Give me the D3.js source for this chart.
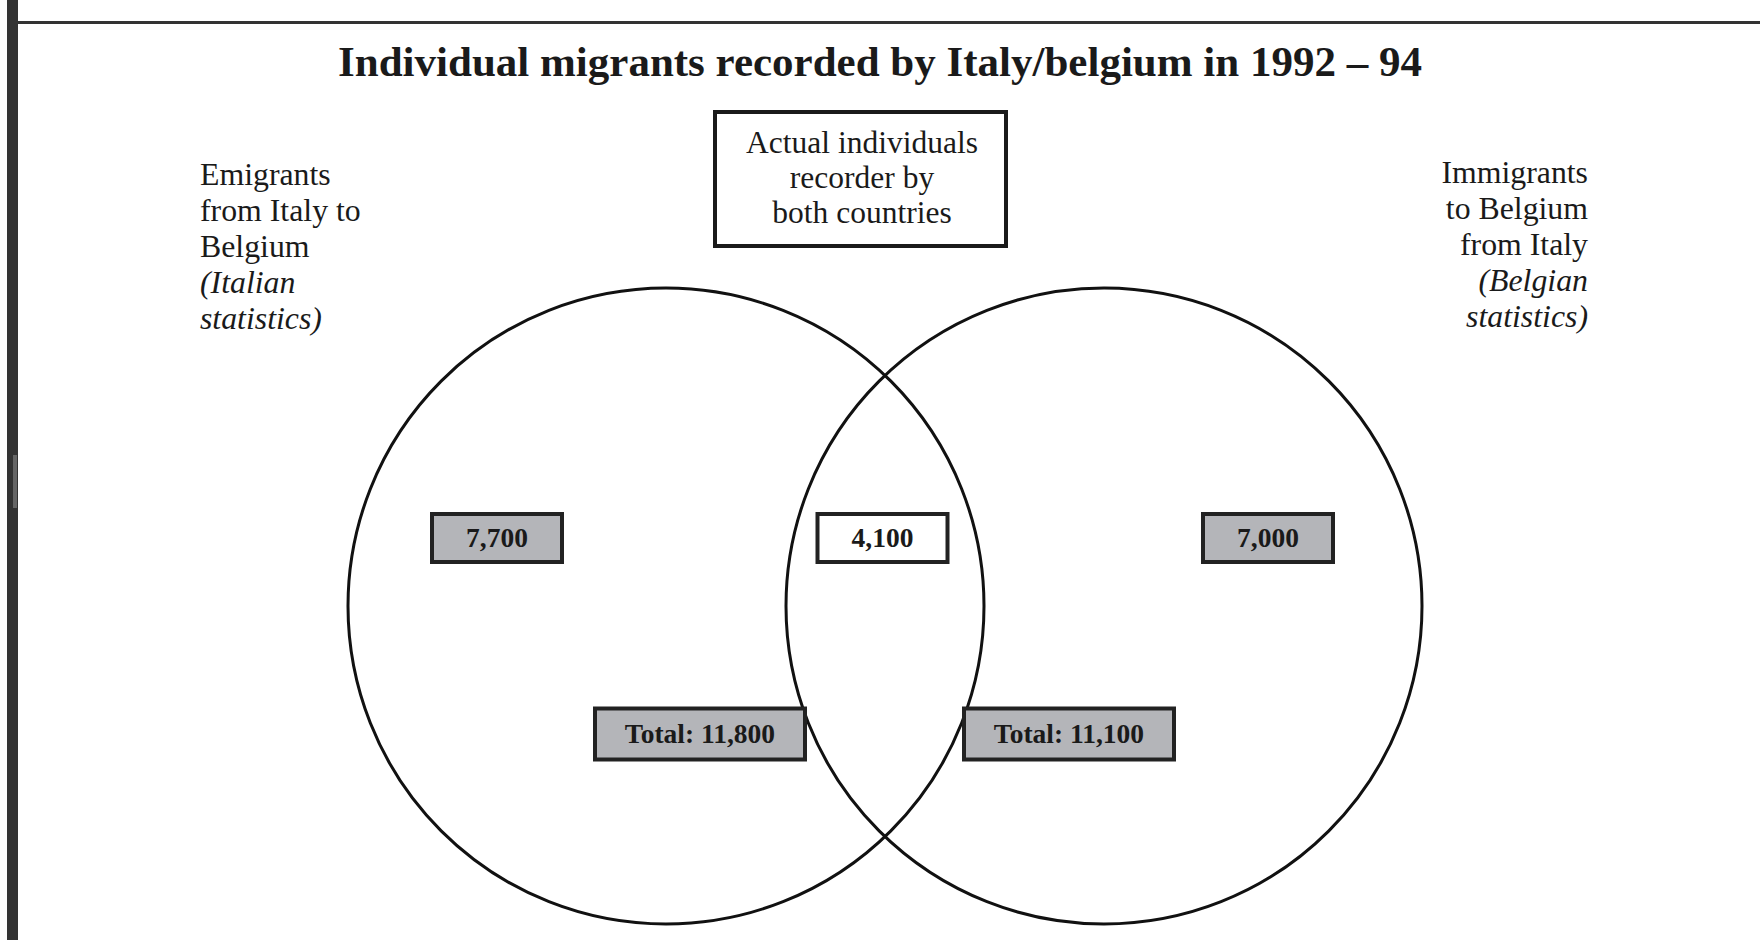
<!DOCTYPE html>
<html lang="en">
<head>
    <meta charset="UTF-8">
    <title>Individual migrants recorded by Italy/belgium in 1992 – 94</title>
    <script src="https://cdnjs.cloudflare.com/ajax/libs/d3/7.8.5/d3.min.js"></script>
    <style>
        body { margin: 0; background: #fff; font-family: "Liberation Serif", "Times New Roman", serif; }
        svg text { fill: #1a1a1a; }
    </style>
</head>
<body>
    <svg width="1760" height="940"></svg>

    <script>
        // data
        const title = "Individual migrants recorded by Italy/belgium in 1992 \u2013 94";
        const regions = ["Italy only", "Both", "Belgium only"];
        const regionValues = [7700, 4100, 7000];
        const sets = ["Italy", "Belgium"];
        const setTotals = [11800, 11100];
        const setLabels = [
            ["Emigrants", "from Italy to", "Belgium"],
            ["Immigrants", "to Belgium", "from Italy"]
        ];
        const setSources = [["(Italian", "statistics)"], ["(Belgian", "statistics)"]];
        const overlapLabel = ["Actual individuals", "recorder by", "both countries"];

        const fmt = d3.format(",");
        const svg = d3.select("svg");

        // frame: left bar and top rule
        svg.append("rect").attr("x", 7).attr("y", 0).attr("width", 11).attr("height", 940).attr("fill", "#333");
        svg.append("rect").attr("x", 13).attr("y", 455).attr("width", 4).attr("height", 53).attr("fill", "#666");
        svg.append("rect").attr("x", 16).attr("y", 21).attr("width", 1744).attr("height", 3).attr("fill", "#333");

        svg.append("text")
            .attr("x", 880).attr("y", 76)
            .attr("text-anchor", "middle")
            .attr("font-size", 43).attr("font-weight", "bold")
            .text(title);

        // layout scales
        const cx = d3.scalePoint().domain(sets).range([666, 1104]);
        const rx = d3.scalePoint().domain(regions).range([497, 1268]);
        const tx = d3.scalePoint().domain(sets).range([700, 1069]);
        const r = 318, cy = 606;

        svg.selectAll("circle.set")
            .data(sets)
            .join("circle")
            .attr("class", "set")
            .attr("cx", d => cx(d)).attr("cy", cy).attr("r", r)
            .attr("fill", "none").attr("stroke", "#111").attr("stroke-width", 3);

        function valueBox(g, x, y, w, h, label, fill) {
            g.append("rect")
                .attr("x", x - w / 2).attr("y", y - h / 2)
                .attr("width", w).attr("height", h)
                .attr("fill", fill).attr("stroke", "#222").attr("stroke-width", 4);
            g.append("text")
                .attr("x", x).attr("y", y + 9)
                .attr("text-anchor", "middle")
                .attr("font-size", 27.5).attr("font-weight", "bold")
                .text(label);
        }

        const boxes = svg.append("g");
        regions.forEach((d, i) => {
            valueBox(boxes, rx(d), 538, 130, 48, fmt(regionValues[i]), d === "Both" ? "#fff" : "#b4b5b9");
        });
        sets.forEach((d, i) => {
            valueBox(boxes, tx(d), 734, 210, 51, "Total: " + fmt(setTotals[i]), "#b4b5b9");
        });

        // overlap label box
        svg.append("rect")
            .attr("x", 715).attr("y", 112).attr("width", 291).attr("height", 134)
            .attr("fill", "#fff").attr("stroke", "#1a1a1a").attr("stroke-width", 4);
        svg.append("text")
            .attr("text-anchor", "middle").attr("font-size", 31.5)
            .selectAll("tspan").data(overlapLabel).join("tspan")
            .attr("x", 862).attr("y", (d, i) => 153 + i * 35)
            .text(d => d);

        // side labels
        const sideX = [200, 1588], sideY = [185, 183], anchors = ["start", "end"];
        sets.forEach((d, i) => {
            const t = svg.append("text")
                .attr("text-anchor", anchors[i]).attr("font-size", 31.8);
            const lines = setLabels[i].map(s => ({ s, it: false }))
                .concat(setSources[i].map(s => ({ s, it: true })));
            t.selectAll("tspan").data(lines).join("tspan")
                .attr("x", sideX[i]).attr("y", (l, j) => sideY[i] + j * 36)
                .attr("font-style", l => l.it ? "italic" : "normal")
                .text(l => l.s);
        });
    </script>
</body>
</html>
